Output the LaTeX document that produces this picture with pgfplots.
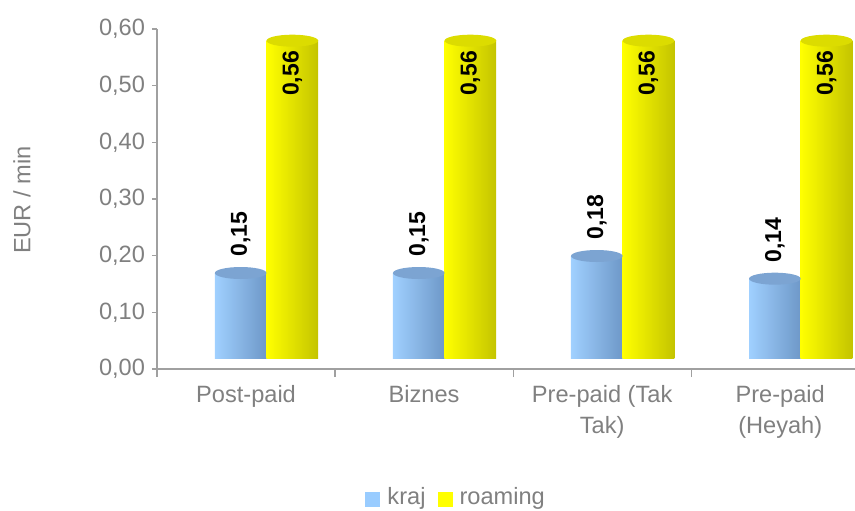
\documentclass[border=0pt]{standalone}
\usepackage{fontspec}
\setmainfont{Liberation Sans}
\usepackage{pgfplots}
\pgfplotsset{compat=1.18}
\definecolor{txt}{HTML}{808080}
\definecolor{axl}{HTML}{A0A0A0}
\definecolor{blA}{HTML}{A0D0FF}
\definecolor{blB}{HTML}{8AB8E8}
\definecolor{blC}{HTML}{6E98C8}
\definecolor{blT}{HTML}{7CA4D2}
\definecolor{blL}{HTML}{99CCFF}
\definecolor{yeA}{HTML}{FFFF00}
\definecolor{yeB}{HTML}{EEEE00}
\definecolor{yeC}{HTML}{C4C400}
\definecolor{yeT}{HTML}{DCDC00}
\pgfdeclareplotmark{captop}{%
  \pgfpathellipse{\pgfpointorigin}{\pgfqpoint{12.9pt}{0pt}}{\pgfqpoint{0pt}{3pt}}%
  \pgfusepathqfill}
\pgfplotsset{
  krajbar/.style={ybar, bar width=0.29, bar shift=0, draw=none,
    left color=blA, middle color=blB, right color=blC, yshift=5.5pt,
    mark=captop, mark options={draw=none, fill=blT},
    nodes near coords, nodes near coords style={anchor=west, inner sep=8pt},
    legend image code/.code={\pgfsetfillcolor{blL}\pgfpathrectangle{\pgfpoint{0pt}{-10.25pt}}{\pgfpoint{7.5pt}{7.5pt}}\pgfusepath{fill}}},
  roambar/.style={ybar, bar width=0.29, bar shift=0, draw=none,
    left color=yeA, middle color=yeB, right color=yeC, yshift=5.5pt,
    mark=captop, mark options={draw=none, fill=yeT},
    nodes near coords, nodes near coords style={anchor=east, inner sep=5pt},
    legend image code/.code={\pgfsetfillcolor{yeA}\pgfpathrectangle{\pgfpoint{0pt}{-10.25pt}}{\pgfpoint{7.5pt}{7.5pt}}\pgfusepath{fill}}},
}
\begin{document}
\begin{tikzpicture}
\useasboundingbox (-78.5pt,-70.5pt) rectangle (349pt,184.5pt);
\begin{axis}[
  scale only axis, width=349pt, height=170pt,
  xmin=-0.5, xmax=3.42, ymin=0, ymax=0.6,
  clip=false,
  axis x line*=bottom, axis y line*=left,
  axis line style={axl, line width=0.6pt},
  tick style={axl, line width=0.6pt},
  tick align=outside,
  major tick length=2.5pt, minor tick length=4pt,
  ytick={0,0.1,0.2,0.3,0.4,0.5,0.6},
  yticklabel style={/pgf/number format/fixed, /pgf/number format/fixed zerofill, /pgf/number format/precision=2, /pgf/number format/use comma},
  /pgf/number format/assume math mode=true,
  xtick={0,1,2,3},
  xticklabels={Post-paid, Biznes, {Pre-paid (Tak\\Tak)}, {Pre-paid\\(Heyah)}},
  xticklabel style={align=center, yshift=-2pt},
  major x tick style={draw=none},
  minor xtick={-0.5,0.5,1.5,2.5},
  ticklabel style={font=\fontsize{11.8}{15.5}\selectfont, text=txt},
  ylabel={EUR / min},
  every axis y label/.style={at={(axis description cs:0,0.497)}, xshift=-67.5pt, rotate=90, anchor=center, font=\fontsize{11.8}{13}\selectfont, text=txt},
  legend style={at={(axis description cs:0.43,-0.379)}, anchor=center, draw=none, legend columns=2, font=\fontsize{11.8}{13}\selectfont, text=txt,
    /tikz/every odd column/.append style={column sep=1.5pt},
    /tikz/every even column/.append style={column sep=4pt}},
  nodes near coords style={font=\bfseries\fontsize{11.5}{13}\selectfont, text=black, rotate=90, /pgf/number format/fixed, /pgf/number format/fixed zerofill, /pgf/number format/precision=2, /pgf/number format/use comma},
]
\addplot[krajbar] coordinates {(-0.03,0.15)};
\addlegendentry{kraj}
\addplot[roambar] coordinates {(0.26,0.56)};
\addlegendentry{roaming}
\addplot[krajbar, forget plot] coordinates {(0.97,0.15)};
\addplot[roambar, forget plot] coordinates {(1.26,0.56)};
\addplot[krajbar, forget plot] coordinates {(1.97,0.18)};
\addplot[roambar, forget plot] coordinates {(2.26,0.56)};
\addplot[krajbar, forget plot] coordinates {(2.97,0.14)};
\addplot[roambar, forget plot] coordinates {(3.26,0.56)};
\end{axis}
\end{tikzpicture}
\end{document}
